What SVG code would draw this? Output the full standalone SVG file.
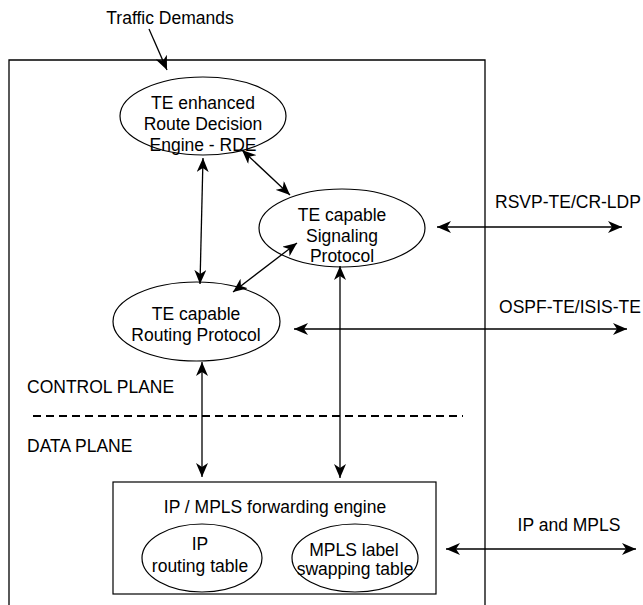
<svg xmlns="http://www.w3.org/2000/svg" width="643" height="605" viewBox="0 0 643 605">
<style>
text{font-family:"Liberation Sans",Arial,sans-serif;font-size:17.5px;fill:#000}
.m{text-anchor:middle}
.sh{fill:#fff;stroke:#000;stroke-width:1.2}
.c{stroke:#000;stroke-width:1.3;fill:none}
.b{marker-start:url(#ah);marker-end:url(#ah)}
</style>
<defs>
<marker id="ah" markerUnits="userSpaceOnUse" markerWidth="14" markerHeight="12" viewBox="0 0 14 12" refX="14" refY="6" orient="auto-start-reverse">
<path d="M0,0 L14,6 L0,12 L4,6 z" fill="#000"/>
</marker>
</defs>
<rect width="643" height="605" fill="#fff"/>
<g id="router">
<path d="M9,606 V60 H485 V606" fill="none" stroke="#000" stroke-width="1.3"/>
</g>
<g id="traffic-demands"><text class="m" x="170" y="24">Traffic Demands</text></g>
<g id="rde">
<ellipse class="sh" cx="203" cy="116" rx="83" ry="39"/>
<text class="m" x="203" y="109">TE enhanced</text>
<text class="m" x="203" y="130">Route Decision</text>
<text class="m" x="203" y="151">Engine - RDE</text>
</g>
<g id="signaling">
<ellipse class="sh" cx="342" cy="228" rx="83" ry="39"/>
<text class="m" x="342" y="221">TE capable</text>
<text class="m" x="342" y="242">Signaling</text>
<text class="m" x="342" y="262">Protocol</text>
</g>
<g id="routing">
<ellipse class="sh" cx="196.5" cy="321.5" rx="83.5" ry="39.5"/>
<text class="m" x="196" y="320">TE capable</text>
<text class="m" x="196" y="341">Routing Protocol</text>
</g>
<g id="planes">
<text x="27" y="393">CONTROL PLANE</text>
<line x1="33" y1="416" x2="463" y2="416" stroke="#000" stroke-width="2" stroke-dasharray="8 5"/>
<text x="27" y="452">DATA PLANE</text>
</g>
<g id="forwarding">
<rect class="sh" x="113" y="482" width="323" height="112"/>
<text class="m" x="275" y="513">IP / MPLS forwarding engine</text>
</g>
<g id="ip-table">
<ellipse class="sh" cx="202" cy="558" rx="60" ry="34"/>
<text class="m" x="200" y="550">IP</text>
<text class="m" x="200" y="572">routing table</text>
</g>
<g id="mpls-table">
<ellipse class="sh" cx="355" cy="558" rx="63" ry="34"/>
<text class="m" x="354" y="556">MPLS label</text>
<text class="m" x="355" y="575">swapping table</text>
</g>
<g id="labels">
<text class="m" x="568" y="208">RSVP-TE/CR-LDP</text>
<text class="m" x="570" y="313">OSPF-TE/ISIS-TE</text>
<text class="m" x="569" y="531">IP and MPLS</text>
</g>
<g id="connectors">
<line class="c" x1="149" y1="29" x2="167" y2="70" marker-end="url(#ah)"/>
<line class="c b" x1="203" y1="158" x2="200" y2="284"/>
<line class="c b" x1="242" y1="150" x2="290" y2="195"/>
<line class="c b" x1="297" y1="243" x2="233" y2="292"/>
<line class="c b" x1="340" y1="266" x2="340" y2="478"/>
<line class="c b" x1="202" y1="362" x2="202" y2="477"/>
<line class="c b" x1="437" y1="227" x2="622" y2="227"/>
<line class="c b" x1="294" y1="329" x2="627" y2="329"/>
<line class="c b" x1="446" y1="549" x2="636" y2="549"/>
</g>
</svg>
